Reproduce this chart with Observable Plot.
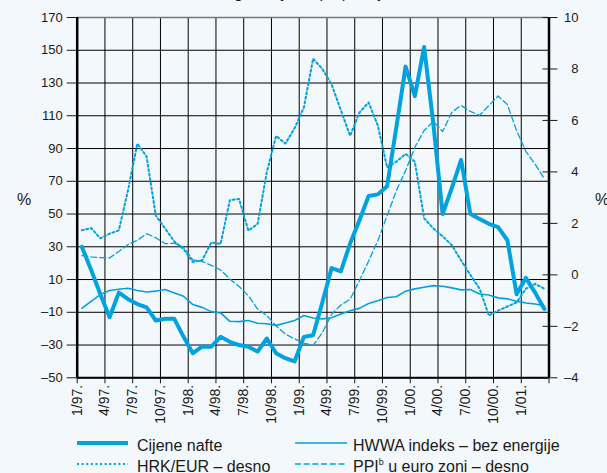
<!DOCTYPE html>
<html><head><meta charset="utf-8">
<script src="https://cdn.jsdelivr.net/npm/d3@7"></script>
<script src="https://cdn.jsdelivr.net/npm/@observablehq/plot@0.6"></script>
<style>
html,body{margin:0;padding:0;background:#f3f8fc;}
#wrap{position:relative;width:607px;height:473px;overflow:hidden;font-family:"Liberation Sans",Arial,sans-serif;color:#1a1a1a;}
#title{position:absolute;left:194px;top:-15.3px;font-size:16px;line-height:16px;white-space:nowrap;}
.pct{position:absolute;font-size:16px;line-height:16px;}
</style></head><body><div id="wrap"><div id="title">Međugodišnje stope promjene</div></div>
<script>
// monthly data, 1/97 ... 3/01
const oil = [30,16,1,-13,2,-2,-5,-7,-15,-14,-14,-25,-35,-31,-31,-25,-28,-30,-31,-34,-26,-35,-38,-40,-25,-24,-4,17,15,32,46,61,62,67,103,140,122,152,105,50,66,83,50,47,44,42,34,1,11,2,-8];
const hwwa = [-7.6,-3.3,0.8,3.3,4.1,4.7,3.3,2.4,2.9,3.9,1.8,-0.2,-5.3,-7,-9.6,-10.4,-15.5,-15.7,-15,-16.7,-17,-18,-16.5,-15,-12,-13.5,-14,-13.3,-11,-9,-7.6,-4.6,-3,-1,-0.5,2.9,4.3,5.3,6.3,5.9,4.9,3.7,3.9,1.2,0.6,-1.2,-1.8,-3.3,-4.3,-4.9,-6];
const hrk = [1.73,1.82,1.42,1.6,1.73,3.3,5.1,4.6,2.3,1.8,1.3,1.0,0.5,0.56,1.26,1.2,2.9,2.95,1.72,1.98,4.0,5.4,5.1,5.7,6.5,8.4,8.0,7.4,6.4,5.4,6.3,6.7,5.8,4.17,4.4,4.7,4.4,2.2,1.8,1.5,1.15,0.56,0,-0.54,-1.58,-1.39,-1.23,-1.07,-0.54,-0.35,-0.54];
const ppi = [0.75,0.70,0.67,0.66,0.91,1.18,1.34,1.60,1.44,1.21,1.23,1.08,0.58,0.52,0.37,0.19,-0.16,-0.45,-0.81,-1.33,-1.58,-1.98,-2.30,-2.49,-2.65,-2.74,-2.25,-1.53,-1.17,-0.95,-0.23,0.54,1.33,2.3,3.27,4.05,4.96,5.61,5.96,5.57,6.32,6.58,6.35,6.20,6.58,6.95,6.62,5.6,4.8,4.3,3.73];
const xTickLabels = ["1/97.","4/97.","7/97.","10/97.","1/98.","4/98.","7/98.","10/98.","1/99.","4/99.","7/99.","10/99.","1/00.","4/00.","7/00.","10/00.","1/01."];
const leftTicks = [-50,-30,-10,10,30,50,70,90,110,130,150,170];
const rightTicks = [-4,-2,0,2,4,6,8,10];
const seriesNames = ["Cijene nafte","HRK/EUR – desno","HWWA indeks – bez energije","PPI u euro zoni – desno"];

const leftDomain = [-50, 170], rightDomain = [-4, 10];
const toLeft = r => leftDomain[0] + (r - rightDomain[0]) * (leftDomain[1]-leftDomain[0]) / (rightDomain[1]-rightDomain[0]);
const toRight = v => rightDomain[0] + (v - leftDomain[0]) * (rightDomain[1]-rightDomain[0]) / (leftDomain[1]-leftDomain[0]);
const nMonths = 51;
const dash = v => v < 0 ? "–" + Math.abs(v) : String(v);
const C = "#00a3e0";
const rows = arr => arr.map((v, i) => ({m: i + 0.5, v}));
const rowsR = arr => arr.map((v, i) => ({m: i + 0.5, v: toLeft(v)}));
const gridXs = d3.range(0, nMonths + 1, 3);

const chart = Plot.plot({
  width: 607, height: 430,
  marginLeft: 76.7, marginRight: 58.5, marginTop: 17, marginBottom: 52.7,
  style: {background: "transparent", fontFamily: "Liberation Sans, Arial, sans-serif", color: "#1a1a1a"},
  x: {domain: [0, nMonths]},
  y: {domain: leftDomain},
  marks: [
    Plot.gridX(gridXs, {stroke: "#000", strokeOpacity: 1, strokeWidth: 1}),
    Plot.gridY(leftTicks, {stroke: "#000", strokeOpacity: 1, strokeWidth: 1}),
    Plot.ruleY([leftDomain[1]], {stroke: "#777", strokeWidth: 1.5}),
    Plot.ruleY([leftDomain[0]], {stroke: "#000", strokeWidth: 2}),
    Plot.ruleX([0, nMonths], {stroke: "#000", strokeWidth: 2.5}),
    Plot.axisY(leftTicks, {anchor: "left", tickSize: 10, tickPadding: 4.5, tickFormat: dash, fontSize: 13, label: null}),
    Plot.axisY(rightTicks.map(toLeft), {anchor: "right", tickSize: 15, dx: -7, tickFormat: () => "", label: null}),
    Plot.axisY(rightTicks.map(toLeft), {anchor: "right", tickSize: 0, tickPadding: 29.5, textAnchor: "end", tickFormat: v => dash(Math.round(toRight(v))), fontSize: 13, label: null}),
    Plot.axisX(gridXs, {anchor: "bottom", tickSize: 6, tickPadding: 1, tickRotate: -90, fontSize: 14, tickFormat: d => xTickLabels[d / 3] || "", label: null}),
    Plot.lineY(rowsR(ppi), {x: "m", y: "v", stroke: C, strokeWidth: 1.3, strokeDasharray: "6,3"}),
    Plot.lineY(rowsR(hrk), {x: "m", y: "v", stroke: C, strokeWidth: 2, strokeDasharray: "2,2.6"}),
    Plot.lineY(rows(hwwa), {x: "m", y: "v", stroke: C, strokeWidth: 1.6}),
    Plot.lineY(rows(oil), {x: "m", y: "v", stroke: C, strokeWidth: 4, strokeLinejoin: "round"})
  ]
});
const wrap = document.getElementById("wrap");
wrap.appendChild(chart);
chart.style.position = "absolute"; chart.style.left = "0"; chart.style.top = "0";

// % labels
const p1 = document.createElement("div"); p1.className = "pct"; p1.textContent = "%"; p1.style.left = "17px"; p1.style.top = "192px"; wrap.appendChild(p1);
const p2 = document.createElement("div"); p2.className = "pct"; p2.textContent = "%"; p2.style.left = "595px"; p2.style.top = "192px"; wrap.appendChild(p2);

// legend
const ns = "http://www.w3.org/2000/svg";
const leg = document.createElementNS(ns, "svg");
leg.setAttribute("width", 607); leg.setAttribute("height", 43);
leg.style.position = "absolute"; leg.style.left = "0"; leg.style.top = "430px";
const items = [
  {x1: 77, x2: 128, y: 13, w: 4, da: null, tx: 137, name: seriesNames[0]},
  {x1: 77, x2: 128, y: 34, w: 2, da: "2,2.6", tx: 137, name: seriesNames[1]},
  {x1: 295, x2: 347, y: 13, w: 1.6, da: null, tx: 353, name: seriesNames[2]},
  {x1: 295, x2: 347, y: 34, w: 1.3, da: "6,2.7", tx: 353, name: seriesNames[3], sup: true}
];
for (const it of items) {
  const l = document.createElementNS(ns, "line");
  l.setAttribute("x1", it.x1); l.setAttribute("x2", it.x2); l.setAttribute("y1", it.y); l.setAttribute("y2", it.y);
  l.setAttribute("stroke", C); l.setAttribute("stroke-width", it.w);
  if (it.da) l.setAttribute("stroke-dasharray", it.da);
  leg.appendChild(l);
  const t = document.createElementNS(ns, "text");
  t.setAttribute("x", it.tx); t.setAttribute("y", it.y + 8);
  t.setAttribute("font-size", 16); t.setAttribute("fill", "#1a1a1a");
  t.setAttribute("font-family", "Liberation Sans, Arial, sans-serif");
  if (it.sup) {
    const a = document.createElementNS(ns, "tspan"); a.textContent = "PPI"; t.appendChild(a);
    const b = document.createElementNS(ns, "tspan"); b.textContent = "b"; b.setAttribute("font-size", 9); b.setAttribute("dy", -7); t.appendChild(b);
    const c = document.createElementNS(ns, "tspan"); c.textContent = " u euro zoni – desno"; c.setAttribute("dy", 7); t.appendChild(c);
  } else {
    t.textContent = it.name;
  }
  leg.appendChild(t);
}
wrap.appendChild(leg);
</script>
</body></html>
